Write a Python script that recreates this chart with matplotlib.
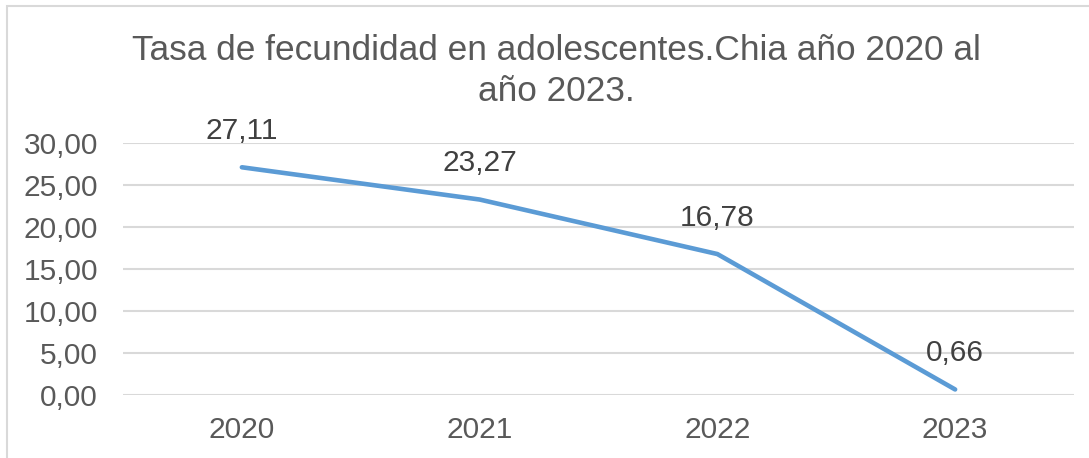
import matplotlib
matplotlib.use("Agg")
import matplotlib.pyplot as plt
from matplotlib.patches import Rectangle

years = ["2020", "2021", "2022", "2023"]
tasa = [27.11, 23.27, 16.78, 0.66]
yticks = [0, 5, 10, 15, 20, 25, 30]

plt.rcParams["font.family"] = ["Liberation Sans", "DejaVu Sans"]

W, H = 1089, 458
fig = plt.figure(figsize=(W / 100, H / 100), dpi=100)
fig.patch.set_facecolor("white")

# chart border (only top and left visible in the crop)
fig.patches.append(Rectangle((7 / W, -0.2), 1.5, 1.2 - 6 / H, transform=fig.transFigure,
                             fill=False, edgecolor="#D9D9D9", linewidth=1.5))

ax = fig.add_axes([123 / W, 1 - 395 / H, (1074 - 123) / W, (395 - 143) / H])
x = range(len(years))
ax.plot(x, tasa, color="#5B9BD5", linewidth=3.3, solid_capstyle="round")
for i, v in zip(x, tasa):
    ax.annotate(f"{v:.2f}".replace(".", ","), (i, v), xytext=(0, 26),
                textcoords="offset points", ha="center", va="center",
                fontsize=21.5, color="#404040")

ax.set_xlim(-0.5, len(years) - 0.5)
ax.set_ylim(0, 30)
ax.set_yticks(yticks)
ax.set_yticklabels([f"{t:.2f}".replace(".", ",") for t in yticks])
ax.set_xticks(list(x))
ax.set_xticklabels(years)
ax.tick_params(axis="both", length=0, labelsize=21.5, labelcolor="#595959")
ax.tick_params(axis="y", pad=18)
ax.tick_params(axis="x", pad=15)
ax.grid(axis="y", color="#D9D9D9", linewidth=1.5)
ax.set_axisbelow(True)
for s in ax.spines.values():
    s.set_visible(False)

fig.text(556 / W, 1 - 71 / H, "Tasa de fecundidad en adolescentes.Chia año 2020 al\naño 2023.",
         ha="center", va="center", multialignment="center", fontsize=25.4,
         color="#595959", linespacing=1.3)

plt.savefig("out.png", dpi=100, facecolor="white")
